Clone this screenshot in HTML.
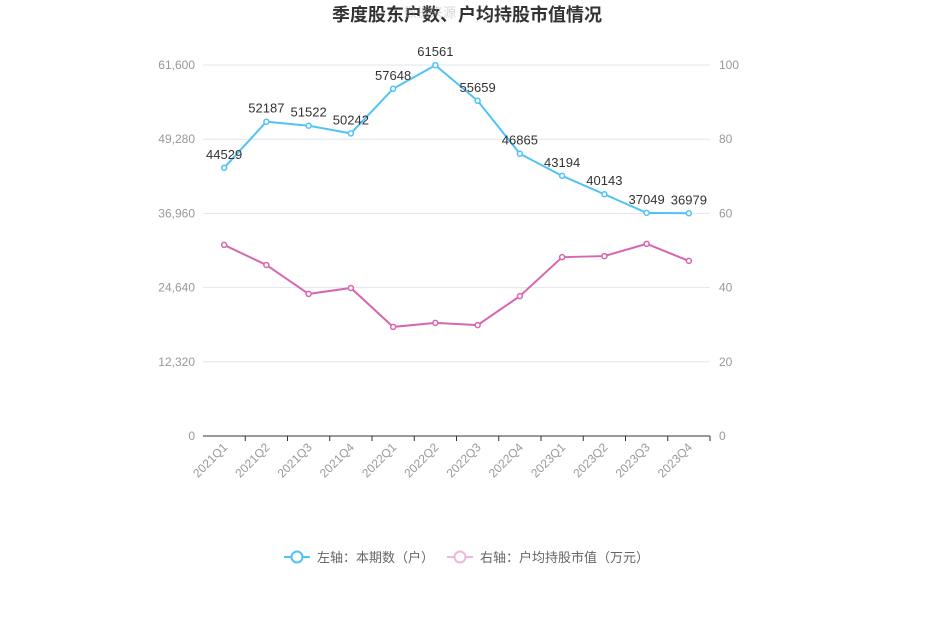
<!DOCTYPE html>
<html><head><meta charset="utf-8"><style>
body{margin:0;background:#fff;font-family:"Liberation Sans","Noto Sans CJK SC",sans-serif;}
</style></head><body>
<svg id="chart" width="935" height="632" xmlns="http://www.w3.org/2000/svg" font-family="Liberation Sans, Noto Sans CJK SC, sans-serif">
<text x="467" y="21" text-anchor="middle" font-size="18" font-weight="bold" fill="#333">季度股东户数、户均持股市值情况</text>
<text x="430" y="17" text-anchor="middle" font-size="13" fill="#999" opacity="0.4">数据来源</text>
<g id="grid"></g><g id="axes"></g><g id="series"></g>
<g>
<g>
<line x1="284" y1="557" x2="310" y2="557" stroke="#4fc3f7" stroke-width="2"/>
<circle cx="297" cy="557" r="5.5" fill="#fff" stroke="#4fc3f7" stroke-width="2"/>
<text x="317" y="562" font-size="13" fill="#666">左轴：本期数（户）</text></g>
<g>
<line x1="447" y1="557" x2="473" y2="557" stroke="#f0b8d8" stroke-width="2"/>
<circle cx="460" cy="557" r="5.5" fill="#fff" stroke="#f0b8d8" stroke-width="2"/>
<text x="480" y="562" font-size="13" fill="#666">右轴：户均持股市值（万元）</text></g>
</g>
</svg>
<script>
const categories=["2021Q1","2021Q2","2021Q3","2021Q4","2022Q1","2022Q2","2022Q3","2022Q4","2023Q1","2023Q2","2023Q3","2023Q4"];
const holders=[44529,52187,51522,50242,57648,61561,55659,46865,43194,40143,37049,36979];
const avgValue=[51.5,46.1,38.3,39.9,29.4,30.5,29.9,37.7,48.2,48.5,51.8,47.2];
const leftTicks=[0,12320,24640,36960,49280,61600];
const rightTicks=[0,20,40,60,80,100];
const NS="http://www.w3.org/2000/svg";
const x0=203,x1=710,yTop=65,yBot=436;
const band=(x1-x0)/categories.length;
const xS=i=>x0+band*(i+0.5);
const yL=v=>yBot-(v/61600)*(yBot-yTop);
const yR=v=>yBot-(v/100)*(yBot-yTop);
function mk(t,a,p){const e=document.createElementNS(NS,t);for(const k in a)e.setAttribute(k,a[k]);(p||document.getElementById('chart')).appendChild(e);return e;}
const grid=document.getElementById('grid'),axes=document.getElementById('axes'),ser=document.getElementById('series');
leftTicks.forEach((v,i)=>{
 const y=yL(v);
 const g=mk('line',{x1:x0,x2:x1,y1:y,y2:y,stroke:i==0?'#333':'#e0e6f1','stroke-width':1},grid);
 
 const t=mk('text',{x:195,y:y+4,'text-anchor':'end','font-size':12,fill:'#999'},axes);t.textContent=v.toLocaleString('en-US');
 
});
rightTicks.forEach(v=>{
 const t=mk('text',{x:719,y:yR(v)+4,'text-anchor':'start','font-size':12,fill:'#999'},axes);t.textContent=v;
 
});
categories.forEach((c,i)=>{
 const tx=x0+band*(i+1);
 const tk=mk('line',{x1:tx,x2:tx,y1:yBot,y2:yBot+5,stroke:'#333'},axes);
 
 const x=xS(i)+4,y=yBot+12;
 const t=mk('text',{x:x,y:y,'text-anchor':'end','font-size':12,fill:'#999',transform:`rotate(-45 ${x} ${y})`},axes);t.textContent=c;
 
});
function line(vals,yf,color,name,labels){
 const p=mk('polyline',{points:vals.map((v,i)=>xS(i)+','+yf(v)).join(' '),fill:'none',stroke:color,'stroke-width':2},ser);
 
 vals.forEach((v,i)=>{
  const c=mk('circle',{cx:xS(i),cy:yf(v),r:2.5,fill:'#fff',stroke:color,'stroke-width':1.5},ser);
  
  if(labels){const t=mk('text',{x:xS(i),y:yf(v)-9,'text-anchor':'middle','font-size':13,fill:'#333'},ser);t.textContent=v;
  }
 });
}
line(avgValue,yR,'#d766ad','avg-value',false);
line(holders,yL,'#4fc3f7','holders',true);
</script>
</body></html>
